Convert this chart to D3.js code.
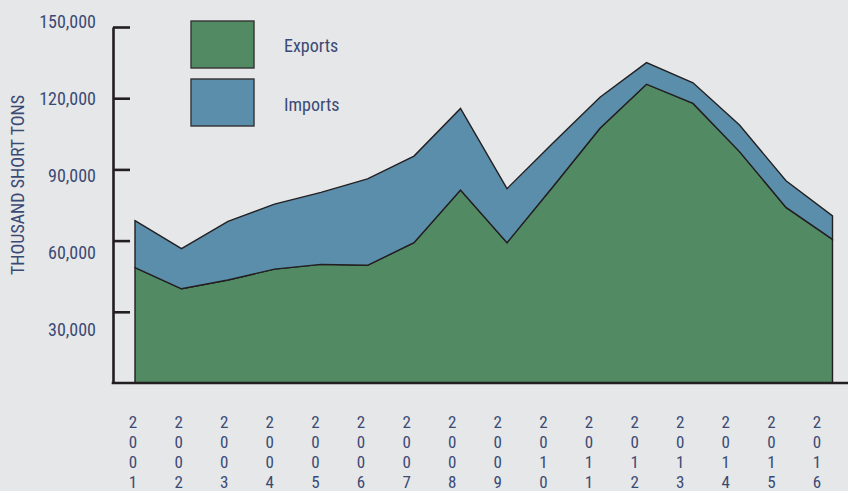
<!DOCTYPE html>
<html>
<head>
<meta charset="utf-8">
<script src="https://cdn.jsdelivr.net/npm/d3@7"></script>
<style>
  html, body { margin: 0; padding: 0; background: #e6e7e8; }
  svg { display: block; }
  text { font-family: "Liberation Sans Narrow", "Roboto Condensed", "Liberation Sans", sans-serif; fill: #3b4a75; }
</style>
</head>
<body>
<svg id="chart" width="848" height="491"></svg>
<script>
const years = [2001,2002,2003,2004,2005,2006,2007,2008,2009,2010,2011,2012,2013,2014,2015,2016];
const exportsData = [48600,39700,43400,48000,50000,49600,59100,81300,59100,83000,107300,125900,117800,97500,74000,60500];
const importsData = [19800,16900,24700,27400,30300,36400,36500,34400,22800,18300,13100,9100,8700,11200,11200,9900];
const yTicks = [30000,60000,90000,120000,150000];
const seriesNames = ["Exports","Imports"];
const colors = ["#528a64","#5b8eab"];

const svg = d3.select("#chart");
const W = 848, H = 491;

const rows = years.map((yr,i) => ({year: yr, Exports: exportsData[i], Imports: importsData[i]}));
const stacked = d3.stack().keys(seriesNames)(rows);

const x = d3.scaleLinear().domain([2001,2016]).range([135,832.5]);
const y = d3.scaleLinear().domain([0,150000]).range([383,27]);
const yLab = d3.scaleLinear().domain([30000,150000]).range([330,22]);
const xLab = d3.scaleLinear().domain([2001,2016]).range([133,817]);

const area = d3.area()
  .x(d => x(d.data.year))
  .y0(d => y(d[0]))
  .y1(d => y(d[1]));

svg.append("g").selectAll("path")
  .data(stacked)
  .join("path")
  .attr("d", area)
  .attr("fill", (d,i) => colors[i])
  .attr("stroke", "#231f20")
  .attr("stroke-width", 1.4)
  .attr("stroke-linejoin", "miter");

// y axis (ticks pointing right)
const yAxis = d3.axisRight(y).tickValues(yTicks).tickSize(17).tickSizeOuter(0).tickFormat("");
const gy = svg.append("g").attr("transform", "translate(113,0)").call(yAxis);
gy.select(".domain").attr("stroke", "#231f20").attr("stroke-width", 2.6);
gy.selectAll(".tick line").attr("stroke", "#231f20").attr("stroke-width", 2.6);

// baseline
svg.append("line")
  .attr("x1", 111.7).attr("x2", W)
  .attr("y1", y(0)).attr("y2", y(0))
  .attr("stroke", "#231f20").attr("stroke-width", 2.6);

// y tick labels
svg.append("g").selectAll("text")
  .data(yTicks)
  .join("text")
  .attr("x", 96)
  .attr("y", d => yLab(d))
  .attr("dy", "0.35em")
  .attr("text-anchor", "end")
  .attr("font-size", 18)
  .text(d => d3.format(",")(d));

// y title
svg.append("text")
  .attr("transform", "translate(18,185) rotate(-90)")
  .attr("text-anchor", "middle")
  .attr("dy", "0.35em")
  .attr("font-size", 18)
  .text("THOUSAND SHORT TONS");

// x labels, stacked vertical digits
const xl = svg.append("g").selectAll("text")
  .data(years)
  .join("text")
  .attr("text-anchor", "middle")
  .attr("font-size", 17);
xl.each(function(yr) {
  const t = d3.select(this);
  String(yr).split("").forEach((ch, k) => {
    t.append("tspan")
      .attr("x", xLab(yr))
      .attr("y", 428 + k * 20)
      .text(ch);
  });
});

// legend
const leg = svg.append("g");
seriesNames.forEach((name, i) => {
  leg.append("rect")
    .attr("x", 191).attr("y", 21 + i * 58)
    .attr("width", 63).attr("height", 47)
    .attr("fill", colors[i])
    .attr("stroke", "#333").attr("stroke-width", 1.4);
  leg.append("text")
    .attr("x", 284).attr("y", 46 + i * 59)
    .attr("dy", "0.35em")
    .attr("font-size", 18)
    .text(name);
});
</script>
</body>
</html>
